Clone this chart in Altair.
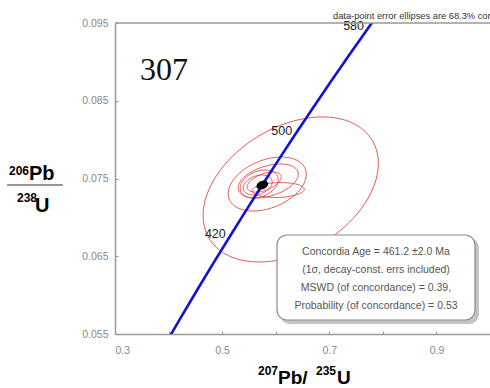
import altair as alt
import numpy as np
import pandas as pd

# Concordia curve: age (Ma), 207Pb/235U, 206Pb/238U
conc_age = [340, 360, 380, 400, 420, 440, 460, 480, 500, 520, 540, 560, 580, 600]
conc_x = [0.39773, 0.42553, 0.45389, 0.48281, 0.51231, 0.54239, 0.57307,
          0.60436, 0.63628, 0.66883, 0.70202, 0.73588, 0.77041, 0.80562]
conc_y = [0.054158, 0.057434, 0.060719, 0.064015, 0.067321, 0.070637, 0.073964,
          0.077301, 0.080648, 0.084006, 0.087374, 0.090753, 0.094141, 0.097541]
label_ages = [420, 500, 580]

# Analyses: centre, 1-sigma errors and error correlation
ell_x = [0.6280, 0.5841, 0.5860, 0.5692, 0.6047, 0.5664, 0.5785]
ell_y = [0.07359, 0.07429, 0.07468, 0.07429, 0.07352, 0.07416, 0.07455]
ell_sx = [0.1636, 0.0729, 0.0561, 0.0355, 0.0486, 0.0271, 0.0318]
ell_sy = [0.00933, 0.00347, 0.00219, 0.00180, 0.00096, 0.00129, 0.00129]
ell_rho = [0.36, 0.36, 0.40, 0.30, 0.10, 0.30, 0.50]

# Concordia age result
age_x = [0.5749]
age_y = [0.07416]

x_ticks = [0.3, 0.4, 0.5, 0.6, 0.7, 0.8, 0.9, 1.0]
y_ticks = [0.055, 0.06, 0.065, 0.07, 0.075, 0.08, 0.085, 0.09, 0.095]

box_lines = ["Concordia Age = 461.2 \u00b12.0 Ma",
             "(1\u03c3, decay-const. errs included)",
             "MSWD (of concordance) = 0.39,",
             "Probability (of concordance) = 0.53"]

W, H = 375, 311
FONT = "Liberation Sans"

xs = alt.Scale(domain=[0.3, 1.0], nice=False, zero=False)
ys = alt.Scale(domain=[0.055, 0.095], nice=False, zero=False)

x_axis = alt.Axis(values=x_ticks, title=None, grid=False,
                  labelExpr="abs(round(datum.value*10)%2)==1 ? format(datum.value,'.1f') : ''",
                  labelOverlap=False, tickSize={"expr": "-3"}, labelPadding=14,
                  domainColor="#999", domainWidth=1.5, tickColor="#999",
                  labelColor="#888", labelFont=FONT, labelFontSize=10.5)
y_axis = alt.Axis(values=y_ticks, title=None, grid=False,
                  labelExpr="round(datum.value*1000)%10==5 ? format(datum.value,'.3f') : ''",
                  labelOverlap=False, tickSize={"expr": "-3"}, labelPadding=10,
                  domainColor="#999", domainWidth=1.5, tickColor="#999",
                  labelColor="#888", labelFont=FONT, labelFontSize=10.5)

# error ellipse outlines
t = np.linspace(0, 2 * np.pi, 91)
rows = []
for i in range(len(ell_x)):
    r = ell_rho[i]
    for k, a in enumerate(t):
        rows.append({"id": i, "k": k,
                     "x": ell_x[i] + ell_sx[i] * np.cos(a),
                     "y": ell_y[i] + ell_sy[i] * (r * np.cos(a) + np.sqrt(1 - r * r) * np.sin(a))})
ell_df = pd.DataFrame(rows)

ellipses = alt.Chart(ell_df).mark_line(color="#e33b3b", strokeWidth=1, opacity=0.85, clip=True).encode(
    x=alt.X("x:Q", scale=xs, axis=x_axis),
    y=alt.Y("y:Q", scale=ys, axis=y_axis),
    detail="id:N",
    order="k:Q",
)

conc_df = pd.DataFrame({"age": conc_age, "x": conc_x, "y": conc_y})
concordia = alt.Chart(conc_df).mark_line(color="#1212d6", strokeWidth=2.6, clip=True).encode(
    x=alt.X("x:Q", scale=xs), y=alt.Y("y:Q", scale=ys), order="age:Q")

lab_df = conc_df[conc_df["age"].isin(label_ages)].copy()
lab_df["txt"] = lab_df["age"].astype(str)
age_labels = alt.Chart(lab_df).mark_text(align="right", baseline="alphabetic", dx=-3, dy=0,
                                         font=FONT, fontSize=12.5, color="#222").encode(
    x=alt.X("x:Q", scale=xs), y=alt.Y("y:Q", scale=ys), text="txt:N")

dot = alt.Chart(pd.DataFrame({"x": age_x, "y": age_y})).mark_point(
    shape="M-1,0A1,0.68,0,1,1,1,0A1,0.68,0,1,1,-1,0Z",
    filled=True, color="black", opacity=1, size=150, angle=335).encode(
    x=alt.X("x:Q", scale=xs), y=alt.Y("y:Q", scale=ys))

one = pd.DataFrame({"a": [0]})


def txt(s, x, y, size, weight="normal", font=FONT, color="black", align="left", baseline="alphabetic"):
    return alt.Chart(one).mark_text(text=s, font=font, fontSize=size, fontWeight=weight,
                                    color=color, align=align, baseline=baseline).encode(
        x=alt.value(x), y=alt.value(y))


top_rule = alt.Chart(one).mark_rule(color="#999", strokeWidth=1.5).encode(
    x=alt.value(0), x2=alt.value(W), y=alt.value(0))

shadow = alt.Chart(one).mark_rect(color="#c4c4c4", cornerRadius=10).encode(
    x=alt.value(165), x2=alt.value(364), y=alt.value(215), y2=alt.value(301))
box = alt.Chart(one).mark_rect(fill="white", stroke="#8a8a8a", strokeWidth=1.2, cornerRadius=10).encode(
    x=alt.value(162), x2=alt.value(360), y=alt.value(212), y2=alt.value(297))
box_text = [txt(s, 261, 229 + 18 * i, 10.5, color="#555", align="center", baseline="middle")
            for i, s in enumerate(box_lines)]

frac_rule = alt.Chart(one).mark_rule(color="#333", strokeWidth=1.2).encode(
    x=alt.value(-108), x2=alt.value(-52), y=alt.value(162))

labels = [
    txt("307", 25, 57, 32, font="Liberation Serif", color="#111"),
    txt("data-point error ellipses are 68.3% conf.", 218, -4, 9.3, color="#333"),
    txt("206", -106, 152, 12, weight="bold"),
    txt("Pb", -86, 157, 20, weight="bold"),
    txt("238", -98, 179, 12, weight="bold"),
    txt("U", -80, 189, 20, weight="bold"),
    txt("207", 143, 352, 12, weight="bold"),
    txt("Pb/", 163, 361, 19, weight="bold"),
    txt("235", 201, 352, 12, weight="bold"),
    txt("U", 222, 361, 19, weight="bold"),
]

chart = alt.layer(
    ellipses, concordia, age_labels, dot, top_rule, shadow, box, *box_text, frac_rule, *labels
).properties(
    width=W, height=H,
    padding={"left": 115, "top": 23, "right": 0, "bottom": 54},
    autosize=alt.AutoSizeParams(type="none"),
).configure_view(stroke=None)

chart.save("out.html", embed_options={"renderer": "svg", "actions": False})
